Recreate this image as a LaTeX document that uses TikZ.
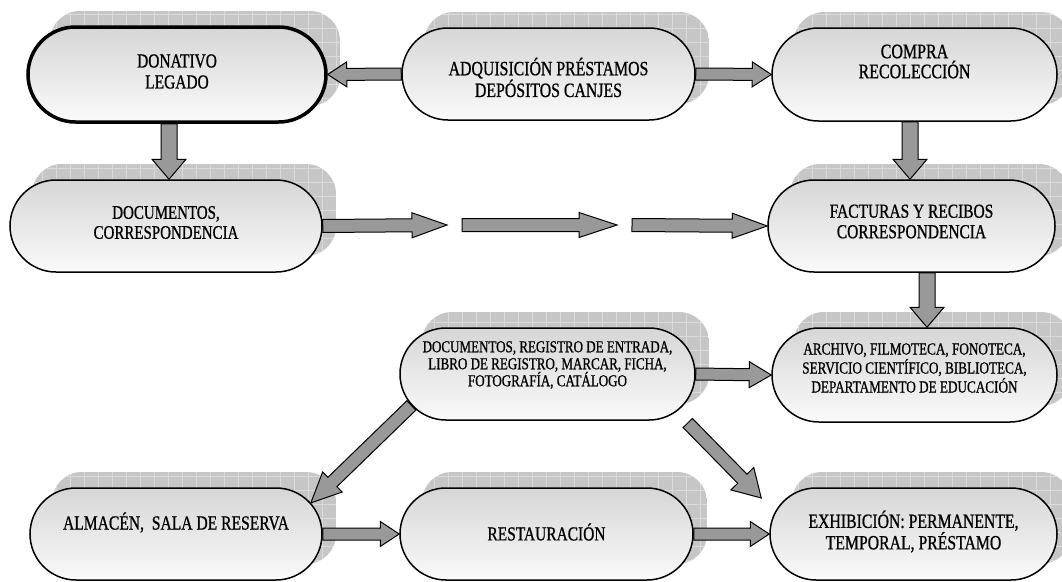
\documentclass[tikz,border=0pt]{standalone}
\usepackage{fontspec}
\setmainfont{Liberation Serif}[FakeStretch=0.78,FakeBold=0.8]
\usetikzlibrary{shapes.misc,calc}
\pgfdeclarelayer{shadowlayer}
\pgfdeclarelayer{arrowlayer}
\pgfsetlayers{shadowlayer,arrowlayer,main}

\tikzset{
  stad/.style={rounded rectangle, draw=black, line width=1.5pt,
    top color=gray!32, bottom color=gray!4, inner sep=0pt},
  txt/.style={align=center, inner sep=0pt},
  shadowfill/.style={fill=gray!45},
  shadowgrid/.style={draw=gray!28, line width=0.6pt},
  barrow/.style={fill=gray!80, draw=black, line width=1pt, line join=miter},
}

% shadow: centre x, centre y, width, height
\newcommand\shadowat[4]{%
  \pgfmathsetmacro\sxa{#1-#3/2+22}\pgfmathsetmacro\sxb{#1+#3/2+14}%
  \pgfmathsetmacro\sya{#2-#4/2-16}\pgfmathsetmacro\syb{#2+#4/2-16}%
  \begin{scope}
    \clip[rounded corners=30pt] (\sxa,\sya) rectangle (\sxb,\syb);
    \fill[shadowfill] (\sxa,\sya) rectangle (\sxb,\syb);
    \draw[shadowgrid] (\sxa,\sya) grid[step=14pt] (\sxb,\syb);
  \end{scope}}

% block arrow: from, to, half shaft, half head, head length
\newcommand\blockarrow[5]{%
  \coordinate (bah) at ($(#2)!#5!(#1)$);
  \filldraw[barrow] ($(#1)!#3!90:(#2)$) -- ($(bah)!#3!90:(#2)$)
    -- ($(bah)!#4!90:(#2)$) -- (#2) -- ($(bah)!#4!-90:(#2)$)
    -- ($(bah)!#3!-90:(#2)$) -- ($(#1)!#3!-90:(#2)$) -- cycle;}

\begin{document}
\begin{tikzpicture}[x=1pt,y=-1pt]
\useasboundingbox (0,0) rectangle (1062,581);

% ---------- shadows ----------
\begin{pgfonlayer}{shadowlayer}
  \fill[white] (0,0) rectangle (1062,581);
  \shadowat{177}{74.5}{298}{95}
  \shadowat{548.5}{74}{293}{92}
  \shadowat{914.5}{74.5}{285}{93}
  \shadowat{166}{226}{312}{92}
  \shadowat{911.5}{226}{287}{92}
  \shadowat{547.5}{374}{295}{92}
  \shadowat{914.5}{375}{285}{94}
  \shadowat{176}{534}{292}{92}
  \shadowat{546.5}{534}{293}{92}
  \shadowat{913.5}{534}{287}{92}
\end{pgfonlayer}

% ---------- nodes ----------
\node[stad, minimum width=298pt, minimum height=95pt, line width=3.5pt] (don) at (177,74.5) {};
\node[stad, minimum width=293pt, minimum height=92pt] (adq) at (548.5,74) {};
\node[stad, minimum width=285pt, minimum height=93pt] (com) at (914.5,74.5) {};
\node[stad, minimum width=312pt, minimum height=92pt] (doc) at (166,226) {};
\node[stad, minimum width=287pt, minimum height=92pt] (fac) at (911.5,226) {};
\node[stad, minimum width=295pt, minimum height=92pt] (reg) at (547.5,374) {};
\node[stad, minimum width=285pt, minimum height=94pt] (arc) at (914.5,375) {};
\node[stad, minimum width=292pt, minimum height=92pt] (alm) at (176,534) {};
\node[stad, minimum width=293pt, minimum height=92pt] (res) at (546.5,534) {};
\node[stad, minimum width=287pt, minimum height=92pt] (exh) at (913.5,534) {};

% ---------- texts ----------
\node[txt, font=\fontsize{19.8}{21}\selectfont] (don-t) at ([yshift=3pt]don.center) {DONATIVO\\LEGADO};
\node[txt, font=\fontsize{20.3}{20}\selectfont] (adq-t) at ([yshift=-3.5pt]adq.center) {ADQUISICIÓN PRÉSTAMOS\\DEPÓSITOS CANJES};
\node[txt, font=\fontsize{20.5}{20}\selectfont] (com-t) at ([yshift=13pt]com.center) {COMPRA\\RECOLECCIÓN};
\node[txt, font=\fontsize{19.2}{20}\selectfont] (doc-t) at ([yshift=3.5pt]doc.center) {DOCUMENTOS,\\CORRESPONDENCIA};
\node[txt, font=\fontsize{19.8}{20.5}\selectfont] (fac-t) at ([yshift=4.5pt]fac.center) {FACTURAS Y RECIBOS\\CORRESPONDENCIA};
\node[txt, font=\fontsize{16.7}{17}\selectfont] (reg-t) at ([yshift=9pt]reg.center) {DOCUMENTOS, REGISTRO DE ENTRADA,\\LIBRO DE REGISTRO, MARCAR, FICHA,\\FOTOGRAFÍA, CATÁLOGO};
\node[txt, font=\fontsize{16.9}{19}\selectfont] (arc-t) at ([yshift=7pt]arc.center) {ARCHIVO, FILMOTECA, FONOTECA,\\SERVICIO CIENTÍFICO, BIBLIOTECA,\\DEPARTAMENTO DE EDUCACIÓN};
\node[txt, font=\fontsize{20}{20}\selectfont] (alm-t) at ([yshift=11.5pt]alm.center) {ALMACÉN,\ \ SALA DE RESERVA};
\node[txt, font=\fontsize{19.8}{20}\selectfont] (res-t) at ([yshift=2pt]res.center) {RESTAURACIÓN};
\node[txt, font=\fontsize{20.2}{19}\selectfont] (exh-t) at ([yshift=2.5pt]exh.center) {EXHIBICIÓN: PERMANENTE,\\TEMPORAL, PRÉSTAMO};

% ---------- connectors ----------
\begin{pgfonlayer}{arrowlayer}
  \coordinate (a3s) at ([xshift=-8pt]don.south);
  \coordinate (a3e) at ([xshift=3pt]doc.north);
  \coordinate (a4s) at ([xshift=-4.5pt]com.south);
  \coordinate (a4e) at ([xshift=-1.5pt]fac.north);
  \coordinate (a6s) at ([xshift=15.5pt]fac.south);
  \coordinate (a6e) at ([xshift=12.5pt]arc.north);
  \coordinate (c1) at (447,225);
  \coordinate (c2) at (462,225);
  \coordinate (c3) at (617,225);
  \coordinate (c4) at (632,225);
  \coordinate (rx) at ([shift={(-8,49)}]reg.east);
  \coordinate (ex) at ([shift={(-8,-36)}]exh.west);

  \blockarrow{adq.west}{don.east}{6pt}{12.5pt}{19pt}
  \blockarrow{adq.east}{com.west}{6pt}{12.5pt}{19pt}
  \blockarrow{a3s}{a3e}{8pt}{17pt}{20pt}
  \blockarrow{a4s}{a4e}{8pt}{17pt}{20pt}
  \blockarrow{doc.east}{c1}{6.5pt}{12.5pt}{35pt}
  \blockarrow{c2}{c3}{6.5pt}{12.5pt}{38pt}
  \blockarrow{c4}{fac.west}{6.5pt}{12.5pt}{35pt}
  \blockarrow{a6s}{a6e}{8pt}{17pt}{20pt}
  \blockarrow{reg.east}{arc.west}{6pt}{13pt}{22pt}
  \blockarrow{reg.193}{alm.13}{6.5pt}{14pt}{30pt}
  \blockarrow{rx}{ex}{6.5pt}{16pt}{27pt}
  \blockarrow{alm.east}{res.west}{6pt}{12.5pt}{19pt}
  \blockarrow{res.east}{exh.west}{6pt}{12.5pt}{19pt}
\end{pgfonlayer}
\end{tikzpicture}
\end{document}
